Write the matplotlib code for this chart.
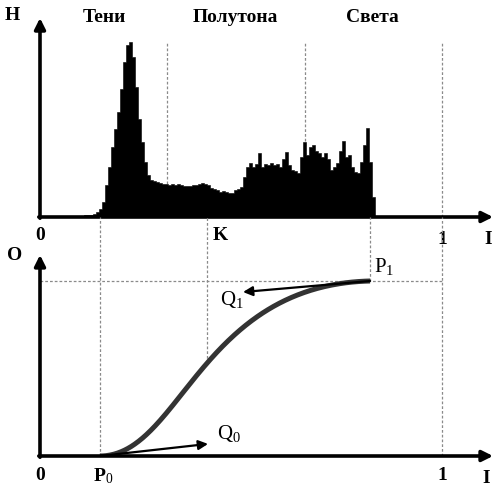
import numpy as np
import matplotlib
matplotlib.use("Agg")
import matplotlib.pyplot as plt

plt.rcParams["font.family"] = ["Liberation Serif", "DejaVu Serif"]
plt.rcParams["mathtext.fontset"] = "custom"
plt.rcParams["mathtext.rm"] = "Liberation Serif"
plt.rcParams["mathtext.it"] = "Liberation Serif"
plt.rcParams["mathtext.bf"] = "Liberation Serif:bold"

# Histogram of input intensity I (0..1), heights in arbitrary units
HIST_START, HIST_END = 0.087, 0.833
hist_counts = [
    1, 1, 1.5, 2, 2, 2.5, 3, 5, 8, 15,
    32, 50, 70, 88, 105, 128, 155, 172, 175, 160,
    130, 98, 75, 55, 42, 37, 36, 35, 34, 33,
    33, 32, 33, 32, 33, 32, 31, 31, 31, 32,
    32, 33, 34, 33, 32, 29, 28, 27, 25, 26,
    25, 24, 24, 27, 28, 30, 40, 50, 54, 50,
    53, 64, 50, 53, 52, 54, 52, 53, 50, 58,
    65, 52, 47, 46, 44, 60, 75, 62, 70, 72,
    66, 64, 60, 64, 58, 47, 50, 54, 66, 76,
    60, 62, 50, 45, 44, 55, 72, 89, 55, 20,
]
zone_bounds = [0.316, 0.659]          # Тени | Полутона | Света
zone_labels = ["Тени", "Полутона", "Света"]
zone_label_x = [0.159, 0.485, 0.826]

# Tone curve: cubic Bezier P0 -> P1 with tangent handles Q0, Q1
P0 = (0.149, 0.0)
P1 = (0.821, 1.0)
C1 = (0.348, 0.0)
C2 = (0.398, 0.977)
Q0 = (0.418, 0.069)
Q1 = (0.505, 0.937)
K = 0.415

HIST_TOP = 217      # vertical span of the top panel (histogram units)
X_MAX = 456 / 402   # right edge of both panels in I units
ARROW_X = 1.127

DASH = dict(color="#8a8a8a", lw=0.9, dashes=(2.2, 1.6), zorder=1)
BOLD = dict(fontsize=14, fontweight="bold", ha="center", va="center")
REG = dict(fontsize=15, ha="center", va="center")

fig = plt.figure(figsize=(4.96, 4.92), dpi=100)
W, H = 496, 492
ax_h = fig.add_axes([40 / W, (H - 217) / H, (W - 40) / W, 217 / H])
ax_c = fig.add_axes([40 / W, (H - 456) / H, (W - 40) / W, (456 - 217) / H])
c_top = (456 - 217) / 175
for ax in (ax_h, ax_c):
    ax.set_axis_off()
    ax.set_xlim(0, X_MAX)
ax_h.set_ylim(0, HIST_TOP)
ax_c.set_ylim(0, c_top)

# ---- histogram panel ----------------------------------------------------
edges = np.linspace(HIST_START, HIST_END, len(hist_counts) + 1)
steps = np.append(hist_counts, hist_counts[-1])
ax_h.fill_between(edges, 0, steps, step="post", color="black", lw=0.4,
                  edgecolor="black", zorder=2)
for xb in zone_bounds + [1.0]:
    ax_h.plot([xb, xb], [0, 174], **DASH)
axis_arrow = dict(arrowstyle="-|>", lw=2.6, color="black", mutation_scale=16,
                  shrinkA=0, shrinkB=0)
ax_h.annotate("", xy=(0, 199), xytext=(0, -1.2), arrowprops=axis_arrow,
              annotation_clip=False, zorder=3)
ax_h.annotate("", xy=(ARROW_X, 0), xytext=(-0.003, 0), arrowprops=axis_arrow,
              annotation_clip=False, zorder=3)
for lab, xl in zip(zone_labels, zone_label_x):
    ax_h.text(xl, 200, lab, **BOLD)
ax_h.text(-0.07, 201, "H", **BOLD)
ax_h.text(0.0, -18, "0", **BOLD)
ax_h.text(0.448, -19, "K", **BOLD)
ax_h.text(1.0, -22, "1", **BOLD)
ax_h.text(1.115, -22, "I", **BOLD)

# ---- tone curve panel ---------------------------------------------------
t = np.linspace(0, 1, 300)[:, None]
pts = ((1 - t) ** 3 * np.array(P0) + 3 * (1 - t) ** 2 * t * np.array(C1)
       + 3 * (1 - t) * t ** 2 * np.array(C2) + t ** 3 * np.array(P1))
bx, by = pts[:, 0], pts[:, 1]

ax_c.plot([0, 1.0], [P1[1], P1[1]], **DASH)
ax_c.plot([P0[0], P0[0]], [0, c_top], **DASH)
ax_c.plot([K, K], [np.interp(K, bx, by), c_top], **DASH)
ax_c.plot([P1[0], P1[0]], [P1[1], c_top], **DASH)
ax_c.plot([1.0, 1.0], [0, c_top], **DASH)

ax_c.annotate("", xy=(0, 1.149), xytext=(0, -0.007), arrowprops=axis_arrow,
              annotation_clip=False)
ax_c.annotate("", xy=(ARROW_X, 0), xytext=(-0.003, 0), arrowprops=axis_arrow,
              annotation_clip=False)

ax_c.plot(bx, by, color="#333333", lw=3.6, solid_capstyle="butt")
handle = dict(arrowstyle="-|>", lw=1.6, color="black", mutation_scale=14,
              shrinkA=0, shrinkB=0)
ax_c.annotate("", xy=Q0, xytext=P0, arrowprops=handle)
ax_c.annotate("", xy=Q1, xytext=P1, arrowprops=handle)

ax_c.text(-0.062, 1.146, "O", **BOLD)
ax_c.text(0.0, -0.109, "0", **BOLD)
ax_c.text(0.158, -0.115, "P$_0$", **BOLD)
ax_c.text(0.47, 0.131, "Q$_0$", **REG)
ax_c.text(0.478, 0.897, "Q$_1$", **REG)
ax_c.text(0.857, 1.08, "P$_1$", **REG)
ax_c.text(1.0, -0.109, "1", **BOLD)
ax_c.text(1.11, -0.126, "I", **BOLD)

fig.savefig("out.png", dpi=100)
